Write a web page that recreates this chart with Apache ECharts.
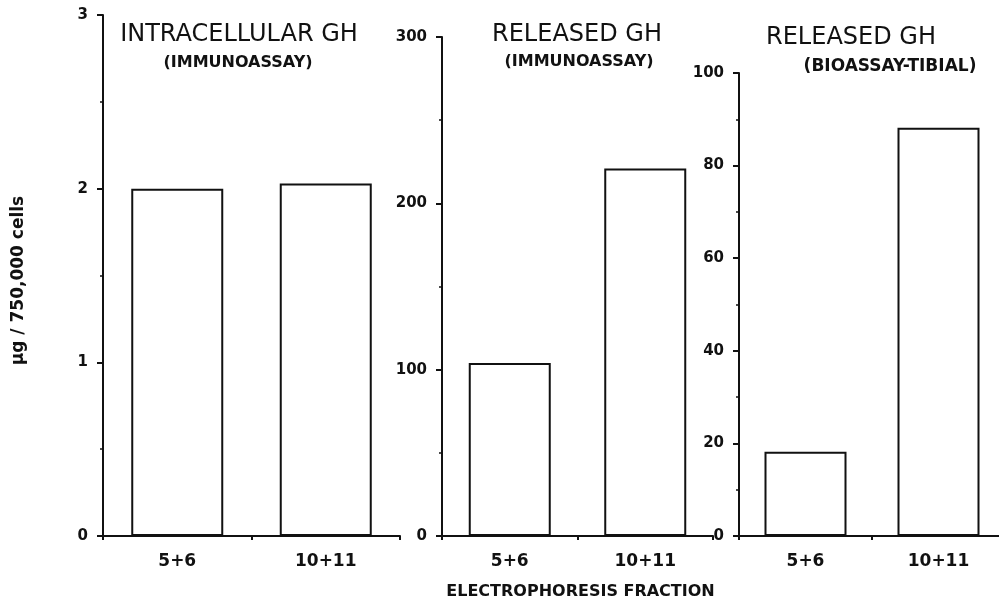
<!DOCTYPE html>
<html>
<head>
<meta charset="utf-8">
<script src="https://cdn.jsdelivr.net/npm/echarts@6/dist/echarts.min.js"></script>
<style>
html,body{margin:0;padding:0;background:#fff;}
#chart{width:999px;height:607px;}
</style>
</head>
<body>
<div id="chart"></div>
<script>
// ---- data ----
var categories = ['5+6', '10+11'];
var intracellularGH = [2.0, 2.03];          // µg / 750,000 cells (immunoassay)
var releasedGHImmuno = [104, 221];          // immunoassay
var releasedGHBio = [18.2, 88.2];           // bioassay-tibial
var yTicks1 = { min: 0, max: 3, interval: 1 };
var yTicks2 = { min: 0, max: 300, interval: 100 };
var yTicks3 = { min: 0, max: 100, interval: 20 };
var panelTitles = ['INTRACELLULAR GH', 'RELEASED GH', 'RELEASED GH'];
var panelSubtitles = ['(IMMUNOASSAY)', '(IMMUNOASSAY)', '(BIOASSAY-TIBIAL)'];
var yAxisName = 'µg / 750,000 cells';
var xAxisName = 'ELECTROPHORESIS FRACTION';

// ---- styles ----
var INK = '#111';
var labelFont = { color: INK, fontFamily: 'DejaVu Sans', fontWeight: 'bold', fontSize: 15 };

function makeY(gi, t) {
  return {
    type: 'value', gridIndex: gi, min: t.min, max: t.max, interval: t.interval,
    axisLine: { show: true, lineStyle: { color: INK, width: 2 } },
    axisTick: { show: true, inside: false, length: 6, lineStyle: { color: INK, width: 2 } },
    minorTick: { show: true, splitNumber: 2, length: 3, lineStyle: { color: INK, width: 1.5 } },
    splitLine: { show: false },
    axisLabel: Object.assign({ margin: 15 }, labelFont)
  };
}
function makeX(gi) {
  return {
    type: 'category', gridIndex: gi, data: categories, boundaryGap: true,
    axisLine: { show: true, lineStyle: { color: INK, width: 2 } },
    axisTick: { show: true, alignWithLabel: false, length: 4, lineStyle: { color: INK, width: 2 } },
    axisLabel: { margin: 17, color: INK, fontFamily: 'DejaVu Sans', fontWeight: 'bold', fontSize: 17 },
    splitLine: { show: false }
  };
}
function makeBar(i, data, width) {
  return {
    type: 'bar', xAxisIndex: i, yAxisIndex: i, data: data, barWidth: width,
    itemStyle: { color: '#fff', borderColor: INK, borderWidth: 2 },
    silent: true, animation: false
  };
}

var yAxes = [makeY(0, yTicks1), makeY(1, yTicks2), makeY(2, yTicks3)];
yAxes[0].name = yAxisName;
yAxes[0].nameLocation = 'middle';
yAxes[0].nameRotate = 90;
yAxes[0].nameGap = 76;
yAxes[0].nameTextStyle = { color: INK, fontFamily: 'DejaVu Sans', fontWeight: 'bold', fontSize: 17, padding: [0, 10, 0, 0] };

var xAxes = [makeX(0), makeX(1), makeX(2)];
xAxes[1].name = xAxisName;
xAxes[1].nameLocation = 'middle';
xAxes[1].nameGap = 48;
xAxes[1].nameTextStyle = { color: INK, fontFamily: 'DejaVu Sans', fontWeight: 'bold', fontSize: 16, padding: [0, 0, 0, 6] };

var titlePos = [[239, 35], [577, 35], [851, 38]];
var subPos = [[238, 63], [579, 62], [890, 67]];
var subSize = [16, 16, 17];
var graphics = [];
for (var i = 0; i < 3; i++) {
  graphics.push({
    type: 'text', silent: true,
    style: { text: panelTitles[i], x: titlePos[i][0], y: titlePos[i][1], textAlign: 'center', textVerticalAlign: 'middle',
             fill: INK, font: 'normal 24px "DejaVu Sans", sans-serif' }
  });
  graphics.push({
    type: 'text', silent: true,
    style: { text: panelSubtitles[i], x: subPos[i][0], y: subPos[i][1], textAlign: 'center', textVerticalAlign: 'middle',
             fill: INK, font: 'bold ' + subSize[i] + 'px "DejaVu Sans", sans-serif' }
  });
}

var chart = echarts.init(document.getElementById('chart'), null, { renderer: 'canvas' });
chart.setOption({
  backgroundColor: '#fff',
  animation: false,
  grid: [
    { left: 103, right: 599, top: 15, bottom: 71, outerBoundsMode: 'none', containLabel: false },
    { left: 442, right: 286, top: 37, bottom: 71, outerBoundsMode: 'none', containLabel: false },
    { left: 739, right: -6, top: 73, bottom: 71, outerBoundsMode: 'none', containLabel: false }
  ],
  xAxis: xAxes,
  yAxis: yAxes,
  series: [
    makeBar(0, intracellularGH, 92),
    makeBar(1, releasedGHImmuno, 82),
    makeBar(2, releasedGHBio, 82)
  ],
  graphic: graphics
});
</script>
</body>
</html>
